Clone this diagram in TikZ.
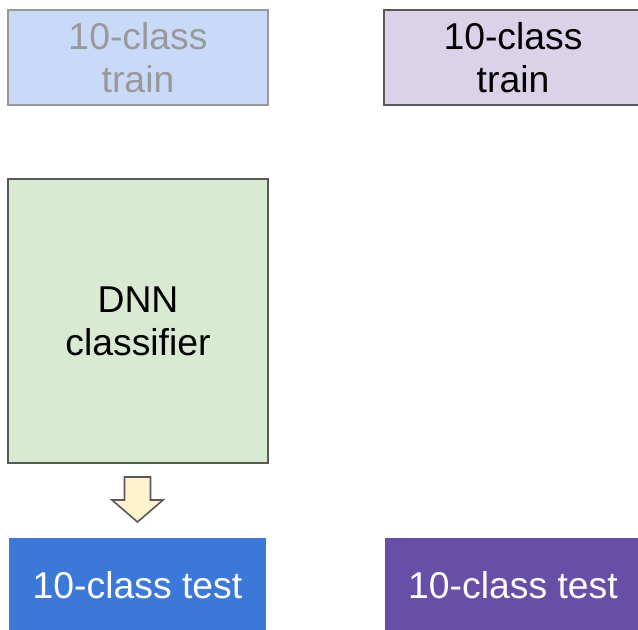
\documentclass[tikz,border=0pt]{standalone}
\usepackage{fontspec}
\setmainfont{Liberation Sans}
\definecolor{trainblue}{HTML}{C9DAF8}
\definecolor{trainpurple}{HTML}{D9D2E9}
\definecolor{dnngreen}{HTML}{D9EAD3}
\definecolor{arrowyellow}{HTML}{FFF2CC}
\definecolor{testblue}{HTML}{3C78D8}
\definecolor{testpurple}{HTML}{674EA7}
\definecolor{edgegray}{HTML}{595959}
\definecolor{fadegray}{HTML}{999999}
\tikzset{
  box/.style={rectangle,inner sep=0pt,align=center,line width=1.2pt,
    font=\fontsize{28}{32.25}\selectfont},
}

\begin{document}
\begin{tikzpicture}[x=0.75pt,y=-0.75pt]
\useasboundingbox (0,0) rectangle (638,629);
\clip (0,0) rectangle (638,629);
% TRAIN SETS
\node [box,draw=fadegray,fill=trainblue,text=fadegray,minimum width=260*0.75pt,minimum height=95*0.75pt]
  (trainA) at (138,57.5) {10-class\\train};
\node [box,draw=edgegray,fill=trainpurple,minimum width=300*0.75pt,minimum height=95*0.75pt]
  (trainB) at (534,57.5) {};
\node (trainBlabel) at (513,57.5) [box] {10-class\\train};
% CLASSIFIER
\node [box,draw=edgegray,fill=dnngreen,minimum width=260*0.75pt,minimum height=284*0.75pt]
  (dnn) at (138,321) {DNN\\classifier};
% BLOCK ARROW
\coordinate (tip) at (137.5,522);
\filldraw [draw=edgegray,fill=arrowyellow,line width=1.2pt,line join=miter]
  (tip) -- ++(-25.5,-22) -- ++(12.5,0) -- ++(0,-23) -- ++(26,0) -- ++(0,23) -- ++(12.5,0) -- cycle;
% TEST SETS
\node [box,fill=testblue,text=white,minimum width=257*0.75pt,minimum height=94*0.75pt]
  (testA) at (137.5,585) {10-class test};
\node [box,fill=testpurple,text=white,minimum width=280*0.75pt,minimum height=94*0.75pt]
  (testB) at (525,585) {};
\node (testBlabel) at (513,585) [box,text=white] {10-class test};
\end{tikzpicture}
\end{document}
